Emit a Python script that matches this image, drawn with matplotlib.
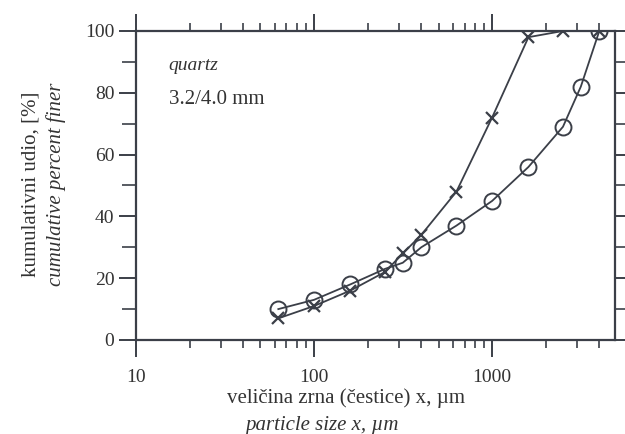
import numpy as np
import matplotlib
matplotlib.use("Agg")
import matplotlib.pyplot as plt
from matplotlib.ticker import LogLocator, MultipleLocator, NullFormatter, FixedFormatter, FixedLocator

plt.rcParams['font.family'] = ['Liberation Serif', 'DejaVu Serif']

# sieve sizes in micrometres and cumulative percent finer
size_o = [63, 100, 160, 250, 315, 400, 630, 1000, 1600, 2500, 3150, 4000]
finer_o = [10, 13, 18, 23, 25, 30, 37, 45, 56, 69, 82, 100]

size_x = [63, 100, 160, 250, 315, 400, 630, 1000, 1600, 2500, 4000]
finer_x = [7, 11, 16, 22, 28, 34, 48, 72, 98, 100, 100]

ink = '#3b3f48'

fig = plt.figure(figsize=(6.25, 4.34), dpi=100)
ax = fig.add_axes([0.2176, 0.2166, 0.7664, 0.712])

ax.plot(size_o, finer_o, color=ink, lw=1.3, marker='o', ms=11.5,
        mfc='none', mec=ink, mew=1.4)
ax.plot(size_x, finer_x, color=ink, lw=1.3, marker='x', ms=9,
        mec=ink, mew=1.6)

ax.set_xscale('log')
ax.set_xlim(10, 4900)
ax.set_ylim(0, 100)

ax.xaxis.set_major_locator(FixedLocator([10, 100, 1000]))
ax.xaxis.set_major_formatter(FixedFormatter(['10', '100', '1000']))
ax.xaxis.set_minor_locator(LogLocator(base=10, subs=np.arange(2, 10)))
ax.xaxis.set_minor_formatter(NullFormatter())
ax.yaxis.set_major_locator(MultipleLocator(20))
ax.yaxis.set_minor_locator(MultipleLocator(10))

for s in ax.spines.values():
    s.set_color(ink)
    s.set_linewidth(1.6)

ax.tick_params(which='both', direction='out', colors=ink, top=True, right=True,
               labelsize=14, labelcolor='#333333')
ax.tick_params(which='major', length=12, width=1.4)
ax.tick_params(which='minor', length=6, width=1.2)
ax.tick_params(axis='y', which='minor', length=10)
ax.tick_params(axis='x', which='major', pad=9)

ax.text(0.068, 0.875, 'quartz', style='italic', fontsize=14, color='#333333',
        transform=ax.transAxes)
ax.text(0.068, 0.765, '3.2/4.0 mm', fontsize=15, color='#333333',
        transform=ax.transAxes)

fig.text(0.05, 0.575, 'kumulativni udio, [%]', rotation=90, fontsize=15,
         color='#333333', ha='center', va='center')
fig.text(0.09, 0.575, 'cumulative percent finer', rotation=90, style='italic',
         fontsize=15, color='#333333', ha='center', va='center')
fig.text(0.363, 0.083, 'veličina zrna (čestice) x, µm', fontsize=15,
         color='#333333', ha='left', va='center')
fig.text(0.392, 0.02, 'particle size x, µm', style='italic', fontsize=15,
         color='#333333', ha='left', va='center')

fig.savefig('out.png', dpi=100)
